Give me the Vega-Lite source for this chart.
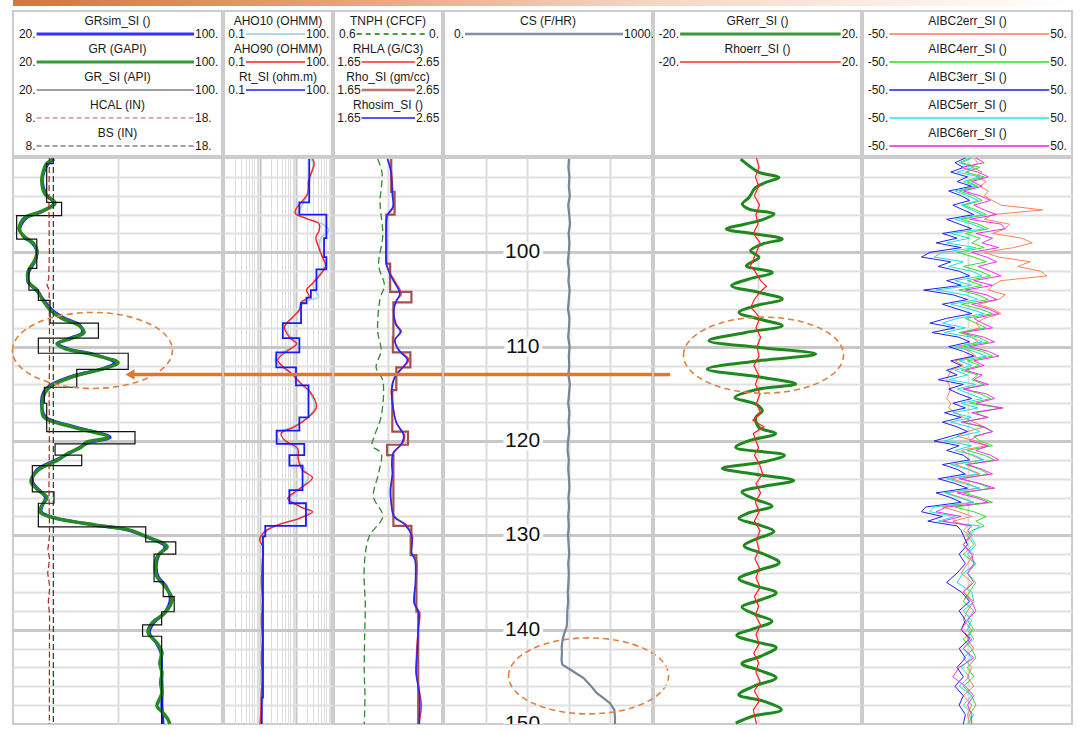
{
  "$schema": "https://vega.github.io/schema/vega-lite/v6.json",
  "padding": {"left": 8, "top": 0, "right": 0, "bottom": 0},
  "background": "white",
  "config": {
    "font": "Liberation Sans",
    "view": {"stroke": "#cccccc", "strokeWidth": 2},
    "axis": {"domain": false, "ticks": false, "labels": false, "grid": true, "gridColor": "#dcdcdc", "gridWidth": 1.5, "minExtent": 0},
    "text": {"font": "Liberation Sans"}
  },
  "datasets": {
    "hdr": [
      {"track": "t1", "row": 0, "name": "GRsim_SI ()", "lo": "20.", "hi": "100."},
      {"track": "t1", "row": 1, "name": "GR (GAPI)", "lo": "20.", "hi": "100."},
      {"track": "t1", "row": 2, "name": "GR_SI (API)", "lo": "20.", "hi": "100."},
      {"track": "t1", "row": 3, "name": "HCAL (IN)", "lo": "8.", "hi": "18."},
      {"track": "t1", "row": 4, "name": "BS (IN)", "lo": "8.", "hi": "18."},
      {"track": "t2", "row": 0, "name": "AHO10 (OHMM)", "lo": "0.1", "hi": "100."},
      {"track": "t2", "row": 1, "name": "AHO90 (OHMM)", "lo": "0.1", "hi": "100."},
      {"track": "t2", "row": 2, "name": "Rt_SI (ohm.m)", "lo": "0.1", "hi": "100."},
      {"track": "t3", "row": 0, "name": "TNPH (CFCF)", "lo": "0.6", "hi": "0."},
      {"track": "t3", "row": 1, "name": "RHLA (G/C3)", "lo": "1.65", "hi": "2.65"},
      {"track": "t3", "row": 2, "name": "Rho_SI (gm/cc)", "lo": "1.65", "hi": "2.65"},
      {"track": "t3", "row": 3, "name": "Rhosim_SI ()", "lo": "1.65", "hi": "2.65"},
      {"track": "t4", "row": 0, "name": "CS (F/HR)", "lo": "0.", "hi": "1000."},
      {"track": "t5", "row": 0, "name": "GRerr_SI ()", "lo": "-20.", "hi": "20."},
      {"track": "t5", "row": 1, "name": "Rhoerr_SI ()", "lo": "-20.", "hi": "20."},
      {"track": "t6", "row": 0, "name": "AIBC2err_SI ()", "lo": "-50.", "hi": "50."},
      {"track": "t6", "row": 1, "name": "AIBC4err_SI ()", "lo": "-50.", "hi": "50."},
      {"track": "t6", "row": 2, "name": "AIBC3err_SI ()", "lo": "-50.", "hi": "50."},
      {"track": "t6", "row": 3, "name": "AIBC5err_SI ()", "lo": "-50.", "hi": "50."},
      {"track": "t6", "row": 4, "name": "AIBC6err_SI ()", "lo": "-50.", "hi": "50."}
    ],
    "gr": [
      {"d": 90.1, "gr": 35.3, "grsim": 35.8}, {"d": 90.6, "gr": 32.9, "grsim": 33.5}, {"d": 91.5, "gr": 31.5, "grsim": 31.8},
      {"d": 92.4, "gr": 31.0, "grsim": 31.2}, {"d": 93.8, "gr": 32.2, "grsim": 32.6}, {"d": 94.8, "gr": 36.1, "grsim": 35.6},
      {"d": 95.8, "gr": 29.6, "grsim": 30.2}, {"d": 96.3, "gr": 24.6, "grsim": 25.4}, {"d": 97.5, "gr": 22.3, "grsim": 22.6},
      {"d": 98.4, "gr": 24.6, "grsim": 24.2}, {"d": 99.0, "gr": 27.7, "grsim": 27.3}, {"d": 99.8, "gr": 29.2, "grsim": 29.0},
      {"d": 100.8, "gr": 28.4, "grsim": 28.7}, {"d": 102.1, "gr": 25.7, "grsim": 26.0}, {"d": 103.2, "gr": 26.1, "grsim": 25.8},
      {"d": 104.0, "gr": 29.2, "grsim": 28.8}, {"d": 105.1, "gr": 31.5, "grsim": 31.9}, {"d": 106.1, "gr": 34.2, "grsim": 34.9},
      {"d": 107.0, "gr": 38.8, "grsim": 39.8}, {"d": 107.7, "gr": 44.9, "grsim": 45.5}, {"d": 108.5, "gr": 47.2, "grsim": 46.5},
      {"d": 109.1, "gr": 42.6, "grsim": 41.8}, {"d": 109.7, "gr": 36.8, "grsim": 37.2}, {"d": 110.2, "gr": 39.9, "grsim": 40.8},
      {"d": 110.9, "gr": 51.4, "grsim": 52.0}, {"d": 111.7, "gr": 60.2, "grsim": 58.8}, {"d": 112.3, "gr": 55.2, "grsim": 54.6},
      {"d": 113.0, "gr": 44.9, "grsim": 44.0}, {"d": 113.6, "gr": 38.8, "grsim": 37.9}, {"d": 114.1, "gr": 34.9, "grsim": 34.1},
      {"d": 114.9, "gr": 32.2, "grsim": 31.6}, {"d": 116.4, "gr": 31.1, "grsim": 31.0}, {"d": 117.5, "gr": 31.9, "grsim": 32.6},
      {"d": 118.5, "gr": 42.6, "grsim": 43.8}, {"d": 119.6, "gr": 56.4, "grsim": 57.2}, {"d": 120.2, "gr": 47.6, "grsim": 48.8},
      {"d": 120.6, "gr": 46.4, "grsim": 46.0}, {"d": 121.3, "gr": 41.1, "grsim": 41.6}, {"d": 122.0, "gr": 37.2, "grsim": 36.5},
      {"d": 123.1, "gr": 29.6, "grsim": 29.0}, {"d": 124.3, "gr": 26.9, "grsim": 27.5}, {"d": 125.2, "gr": 29.6, "grsim": 30.0},
      {"d": 126.0, "gr": 33.0, "grsim": 32.4}, {"d": 126.8, "gr": 31.1, "grsim": 31.3}, {"d": 127.5, "gr": 30.3, "grsim": 30.8},
      {"d": 128.1, "gr": 34.9, "grsim": 35.5}, {"d": 128.9, "gr": 51.4, "grsim": 51.0}, {"d": 129.4, "gr": 64.0, "grsim": 63.5},
      {"d": 130.2, "gr": 71.7, "grsim": 71.4}, {"d": 131.2, "gr": 79.0, "grsim": 78.2}, {"d": 132.1, "gr": 75.5, "grsim": 75.8},
      {"d": 133.3, "gr": 74.4, "grsim": 74.8}, {"d": 134.4, "gr": 75.1, "grsim": 75.6}, {"d": 135.4, "gr": 78.2, "grsim": 78.6},
      {"d": 136.8, "gr": 80.9, "grsim": 80.2}, {"d": 138.2, "gr": 78.2, "grsim": 78.0}, {"d": 139.3, "gr": 73.2, "grsim": 73.8},
      {"d": 140.3, "gr": 71.7, "grsim": 72.2}, {"d": 141.4, "gr": 75.1, "grsim": 74.8}, {"d": 142.4, "gr": 77.0, "grsim": 76.6},
      {"d": 143.5, "gr": 76.2, "grsim": 76.8}, {"d": 144.6, "gr": 77.0, "grsim": 76.9}, {"d": 145.6, "gr": 76.5, "grsim": 77.0},
      {"d": 146.7, "gr": 77.0, "grsim": 77.1}, {"d": 147.4, "gr": 76.0, "grsim": 77.0}, {"d": 148.1, "gr": 75.1, "grsim": 77.0},
      {"d": 148.8, "gr": 77.4, "grsim": 77.2}, {"d": 149.5, "gr": 79.3, "grsim": 77.3}, {"d": 150.0, "gr": 80.0, "grsim": 77.4}
    ],
    "grsi": [
      {"d": 90.1, "v": 35.4}, {"d": 90.6, "v": 32.9}, {"d": 94.7, "v": 38.6}, {"d": 96.1, "v": 21.4}, {"d": 98.6, "v": 29.1},
      {"d": 101.7, "v": 26.1}, {"d": 104.0, "v": 29.7}, {"d": 105.1, "v": 34.2}, {"d": 107.5, "v": 52.7}, {"d": 109.1, "v": 29.7},
      {"d": 110.7, "v": 64.1}, {"d": 112.4, "v": 44.4}, {"d": 114.3, "v": 32.0}, {"d": 116.0, "v": 32.9}, {"d": 119.0, "v": 66.7},
      {"d": 120.3, "v": 36.1}, {"d": 121.5, "v": 46.3}, {"d": 122.6, "v": 27.4}, {"d": 125.4, "v": 35.7}, {"d": 126.6, "v": 29.7},
      {"d": 129.1, "v": 70.8}, {"d": 130.7, "v": 82.3}, {"d": 132.0, "v": 74.0}, {"d": 134.9, "v": 77.5}, {"d": 136.5, "v": 81.7},
      {"d": 138.1, "v": 76.9}, {"d": 139.5, "v": 69.6}, {"d": 140.7, "v": 76.9}, {"d": 150.0, "v": 76.9}
    ],
    "cal": [
      {"d": 90, "hcal": 9.74, "bs": 9.93}, {"d": 95, "hcal": 9.72, "bs": 9.93}, {"d": 100, "hcal": 9.74, "bs": 9.93},
      {"d": 102.8, "hcal": 9.71, "bs": 9.93}, {"d": 103.4, "hcal": 9.62, "bs": 9.93}, {"d": 104, "hcal": 9.73, "bs": 9.93},
      {"d": 110, "hcal": 9.75, "bs": 9.93}, {"d": 115, "hcal": 9.73, "bs": 9.93}, {"d": 120, "hcal": 9.74, "bs": 9.93},
      {"d": 125, "hcal": 9.72, "bs": 9.93}, {"d": 130, "hcal": 9.75, "bs": 9.93}, {"d": 131.5, "hcal": 9.67, "bs": 9.93},
      {"d": 132.5, "hcal": 9.75, "bs": 9.93}, {"d": 134, "hcal": 9.66, "bs": 9.93}, {"d": 135.5, "hcal": 9.76, "bs": 9.93},
      {"d": 137, "hcal": 9.69, "bs": 9.93}, {"d": 138.5, "hcal": 9.75, "bs": 9.93}, {"d": 145, "hcal": 9.74, "bs": 9.93},
      {"d": 150, "hcal": 9.74, "bs": 9.93}
    ],
    "res": [
      {"d": 90.1, "aho90": 28.7, "aho10": 26}, {"d": 90.6, "aho90": 32.0, "aho10": 30}, {"d": 92.4, "aho90": 22.3, "aho10": 24},
      {"d": 93.8, "aho90": 20.9, "aho10": 21}, {"d": 95.4, "aho90": 10.0, "aho10": 13}, {"d": 95.9, "aho90": 9.6, "aho10": 11},
      {"d": 96.4, "aho90": 18.9, "aho10": 20}, {"d": 97.0, "aho90": 43.9, "aho10": 55}, {"d": 97.7, "aho90": 43.9, "aho10": 82},
      {"d": 98.4, "aho90": 35.6, "aho10": 50}, {"d": 99.4, "aho90": 42.0, "aho10": 45}, {"d": 100.5, "aho90": 54.1, "aho10": 55},
      {"d": 101.4, "aho90": 67.1, "aho10": 62}, {"d": 102.3, "aho90": 48.9, "aho10": 45}, {"d": 103.3, "aho90": 28.7, "aho10": 30},
      {"d": 104.0, "aho90": 19.6, "aho10": 33}, {"d": 104.7, "aho90": 23.3, "aho10": 42}, {"d": 105.3, "aho90": 13.8, "aho10": 16},
      {"d": 106.1, "aho90": 12.4, "aho10": 13}, {"d": 106.8, "aho90": 8.45, "aho10": 9}, {"d": 107.9, "aho90": 4.78, "aho10": 5},
      {"d": 109.0, "aho90": 6.56, "aho10": 7.5}, {"d": 109.7, "aho90": 10.4, "aho10": 11}, {"d": 110.4, "aho90": 5.89, "aho10": 5},
      {"d": 111.4, "aho90": 3.12, "aho10": 2.6}, {"d": 112.1, "aho90": 4.29, "aho10": 3.8}, {"d": 112.8, "aho90": 7.3, "aho10": 7},
      {"d": 113.9, "aho90": 13.8, "aho10": 13}, {"d": 114.9, "aho90": 25.9, "aho10": 24}, {"d": 116.4, "aho90": 37.0, "aho10": 33},
      {"d": 117.4, "aho90": 23.3, "aho10": 22}, {"d": 118.5, "aho90": 9.0, "aho10": 8}, {"d": 119.2, "aho90": 3.87, "aho10": 2.9},
      {"d": 119.9, "aho90": 4.78, "aho10": 3.5}, {"d": 120.8, "aho90": 11.1, "aho10": 10}, {"d": 122.0, "aho90": 11.6, "aho10": 12},
      {"d": 123.1, "aho90": 15.2, "aho10": 18}, {"d": 123.9, "aho90": 28.7, "aho10": 22}, {"d": 125.2, "aho90": 11.1, "aho10": 12},
      {"d": 126.1, "aho90": 5.89, "aho10": 7}, {"d": 127.0, "aho90": 13.8, "aho10": 14}, {"d": 127.5, "aho90": 28.7, "aho10": 24},
      {"d": 128.2, "aho90": 12.4, "aho10": 12}, {"d": 128.9, "aho90": 3.12, "aho10": 3.2}, {"d": 129.6, "aho90": 1.35, "aho10": 1.5},
      {"d": 130.5, "aho90": 0.98, "aho10": 1.15}, {"d": 131.2, "aho90": 1.21, "aho10": 1.25}, {"d": 133, "aho90": 1.15, "aho10": 1.2},
      {"d": 135, "aho90": 1.1, "aho10": 1.18}, {"d": 137, "aho90": 1.17, "aho10": 1.16}, {"d": 139, "aho90": 1.1, "aho10": 1.2},
      {"d": 141, "aho90": 1.16, "aho10": 1.22}, {"d": 143, "aho90": 1.1, "aho10": 1.2}, {"d": 145, "aho90": 1.14, "aho10": 1.18},
      {"d": 147, "aho90": 1.09, "aho10": 1.2}, {"d": 149, "aho90": 1.05, "aho10": 1.12}, {"d": 150, "aho90": 1.0, "aho10": 1.1}
    ],
    "rtsi": [
      {"d": 90.1, "v": 23.3}, {"d": 94.7, "v": 12.4}, {"d": 96.0, "v": 69.8}, {"d": 98.5, "v": 60.2}, {"d": 100.5, "v": 69.8},
      {"d": 101.8, "v": 37.0}, {"d": 104.0, "v": 25.9}, {"d": 104.8, "v": 19.6}, {"d": 105.4, "v": 13.8}, {"d": 107.5, "v": 4.29},
      {"d": 109.1, "v": 12.4}, {"d": 110.6, "v": 2.83}, {"d": 112.2, "v": 10.0}, {"d": 114.1, "v": 22.3}, {"d": 117.5, "v": 12.4},
      {"d": 118.9, "v": 2.9}, {"d": 120.3, "v": 17.0}, {"d": 121.5, "v": 6.56}, {"d": 122.6, "v": 15.2}, {"d": 125.2, "v": 6.56},
      {"d": 126.6, "v": 18.9}, {"d": 129.0, "v": 1.4}, {"d": 130.1, "v": 1.21}, {"d": 147.2, "v": 1.12}, {"d": 150.0, "v": 1.12}
    ],
    "tnph": [
      {"d": 90.1, "v": 0.357}, {"d": 91.6, "v": 0.333}, {"d": 94.7, "v": 0.344}, {"d": 98.2, "v": 0.329}, {"d": 101.4, "v": 0.352},
      {"d": 103.5, "v": 0.32}, {"d": 104.9, "v": 0.344}, {"d": 108.4, "v": 0.357}, {"d": 110.4, "v": 0.338}, {"d": 112.2, "v": 0.366},
      {"d": 113.6, "v": 0.329}, {"d": 117.4, "v": 0.338}, {"d": 119.5, "v": 0.376}, {"d": 120.5, "v": 0.389}, {"d": 121.3, "v": 0.338},
      {"d": 123.4, "v": 0.352}, {"d": 125.9, "v": 0.381}, {"d": 128.0, "v": 0.329}, {"d": 130.1, "v": 0.404}, {"d": 133.3, "v": 0.432},
      {"d": 137.5, "v": 0.426}, {"d": 141, "v": 0.43}, {"d": 144.6, "v": 0.432}, {"d": 147, "v": 0.428}, {"d": 150, "v": 0.432}
    ],
    "rho": [
      {"d": 90.1, "rhla": 2.148, "rhosim": 2.145}, {"d": 91.3, "rhla": 2.18, "rhosim": 2.175}, {"d": 93.8, "rhla": 2.195, "rhosim": 2.19},
      {"d": 95.2, "rhla": 2.201, "rhosim": 2.195}, {"d": 96.1, "rhla": 2.148, "rhosim": 2.14}, {"d": 97.0, "rhla": 2.133, "rhosim": 2.133},
      {"d": 99.0, "rhla": 2.133, "rhosim": 2.133}, {"d": 101.2, "rhla": 2.133, "rhosim": 2.135}, {"d": 102.1, "rhla": 2.164, "rhosim": 2.16},
      {"d": 103.0, "rhla": 2.211, "rhosim": 2.2}, {"d": 104.4, "rhla": 2.273, "rhosim": 2.26}, {"d": 105.1, "rhla": 2.227, "rhosim": 2.23},
      {"d": 106.0, "rhla": 2.201, "rhosim": 2.205}, {"d": 107.6, "rhla": 2.227, "rhosim": 2.22}, {"d": 108.4, "rhla": 2.273, "rhosim": 2.265},
      {"d": 109.3, "rhla": 2.211, "rhosim": 2.215}, {"d": 110.4, "rhla": 2.257, "rhosim": 2.25}, {"d": 111.4, "rhla": 2.344, "rhosim": 2.33},
      {"d": 112.3, "rhla": 2.273, "rhosim": 2.28}, {"d": 113.2, "rhla": 2.211, "rhosim": 2.215}, {"d": 114.6, "rhla": 2.18, "rhosim": 2.185},
      {"d": 116.0, "rhla": 2.195, "rhosim": 2.19}, {"d": 118.1, "rhla": 2.227, "rhosim": 2.23}, {"d": 119.4, "rhla": 2.304, "rhosim": 2.295},
      {"d": 120.2, "rhla": 2.288, "rhosim": 2.28}, {"d": 121.3, "rhla": 2.195, "rhosim": 2.2}, {"d": 122.4, "rhla": 2.189, "rhosim": 2.185},
      {"d": 123.4, "rhla": 2.195, "rhosim": 2.19}, {"d": 125.2, "rhla": 2.17, "rhosim": 2.175}, {"d": 126.6, "rhla": 2.18, "rhosim": 2.18},
      {"d": 128.0, "rhla": 2.211, "rhosim": 2.205}, {"d": 128.9, "rhla": 2.32, "rhosim": 2.31}, {"d": 130.1, "rhla": 2.376, "rhosim": 2.37},
      {"d": 131.9, "rhla": 2.367, "rhosim": 2.37}, {"d": 132.6, "rhla": 2.413, "rhosim": 2.4}, {"d": 134.7, "rhla": 2.413, "rhosim": 2.405},
      {"d": 137.2, "rhla": 2.391, "rhosim": 2.395}, {"d": 138.2, "rhla": 2.444, "rhosim": 2.435}, {"d": 140.0, "rhla": 2.429, "rhosim": 2.43},
      {"d": 142.8, "rhla": 2.413, "rhosim": 2.418}, {"d": 144.6, "rhla": 2.413, "rhosim": 2.41}, {"d": 146.7, "rhla": 2.444, "rhosim": 2.44},
      {"d": 148.1, "rhla": 2.46, "rhosim": 2.445}, {"d": 149.5, "rhla": 2.444, "rhosim": 2.44}, {"d": 150, "rhla": 2.44, "rhosim": 2.44}
    ],
    "rhosi": [
      {"d": 90.1, "v": 2.18}, {"d": 93.6, "v": 2.211}, {"d": 96.0, "v": 2.135}, {"d": 101.2, "v": 2.17}, {"d": 104.2, "v": 2.367},
      {"d": 105.3, "v": 2.2}, {"d": 109.0, "v": 2.195}, {"d": 110.6, "v": 2.357}, {"d": 112.2, "v": 2.227}, {"d": 114.6, "v": 2.19},
      {"d": 119.0, "v": 2.335}, {"d": 120.4, "v": 2.142}, {"d": 121.5, "v": 2.2}, {"d": 129.0, "v": 2.367}, {"d": 130.1, "v": 2.36},
      {"d": 132.1, "v": 2.413}, {"d": 138.1, "v": 2.43}, {"d": 150.0, "v": 2.43}
    ],
    "cs": [
      {"d": 90.1, "v": 601}, {"d": 91, "v": 598}, {"d": 92, "v": 603}, {"d": 93, "v": 600}, {"d": 94, "v": 605}, {"d": 95, "v": 597},
      {"d": 96, "v": 602}, {"d": 97, "v": 606}, {"d": 98, "v": 599}, {"d": 99, "v": 603}, {"d": 100, "v": 600}, {"d": 101, "v": 595},
      {"d": 102, "v": 602}, {"d": 103, "v": 598}, {"d": 104, "v": 604}, {"d": 105, "v": 600}, {"d": 106, "v": 596}, {"d": 107, "v": 603},
      {"d": 108, "v": 601}, {"d": 109, "v": 597}, {"d": 110, "v": 604}, {"d": 111, "v": 600}, {"d": 112, "v": 602}, {"d": 113, "v": 598},
      {"d": 114, "v": 605}, {"d": 115, "v": 601}, {"d": 116, "v": 597}, {"d": 117, "v": 603}, {"d": 118, "v": 599}, {"d": 119, "v": 602},
      {"d": 120, "v": 596}, {"d": 121, "v": 594}, {"d": 122, "v": 600}, {"d": 123, "v": 597}, {"d": 124, "v": 601}, {"d": 125, "v": 603},
      {"d": 126, "v": 598}, {"d": 127, "v": 601}, {"d": 128, "v": 597}, {"d": 129, "v": 600}, {"d": 130, "v": 596}, {"d": 131, "v": 599},
      {"d": 132, "v": 602}, {"d": 133, "v": 597}, {"d": 134, "v": 600}, {"d": 135, "v": 598}, {"d": 136, "v": 595}, {"d": 137, "v": 597},
      {"d": 138, "v": 593}, {"d": 139, "v": 592}, {"d": 139.7, "v": 590}, {"d": 140.4, "v": 578}, {"d": 141.1, "v": 570},
      {"d": 141.8, "v": 566}, {"d": 142.5, "v": 567}, {"d": 143.2, "v": 565}, {"d": 143.7, "v": 569}, {"d": 144.2, "v": 605},
      {"d": 144.7, "v": 640}, {"d": 145.1, "v": 670}, {"d": 145.8, "v": 700}, {"d": 146.7, "v": 734}, {"d": 147.3, "v": 770},
      {"d": 147.8, "v": 798}, {"d": 148.5, "v": 819}, {"d": 149.3, "v": 822}, {"d": 150, "v": 822}
    ],
    "grerr": [
      {"d": 90.11, "v": -3.25}, {"d": 90.82, "v": -1.64}, {"d": 91.53, "v": 0.29}, {"d": 92.06, "v": 4.15}, {"d": 92.59, "v": 1.58},
      {"d": 93.12, "v": -0.35}, {"d": 94.18, "v": -1.64}, {"d": 94.88, "v": -2.93}, {"d": 95.41, "v": -1.64}, {"d": 95.94, "v": 3.19},
      {"d": 96.47, "v": 1.26}, {"d": 97.0, "v": -2.28}, {"d": 97.53, "v": -6.03}, {"d": 98.06, "v": -0.35}, {"d": 98.59, "v": 4.79},
      {"d": 99.12, "v": 0.93}, {"d": 99.83, "v": -1.32}, {"d": 100.54, "v": 0.29}, {"d": 101.42, "v": -2.16}, {"d": 102.13, "v": 2.86},
      {"d": 102.83, "v": -1.64}, {"d": 103.54, "v": -5.0}, {"d": 104.25, "v": 0.29}, {"d": 104.95, "v": 4.79}, {"d": 105.66, "v": -0.35},
      {"d": 106.37, "v": -3.57}, {"d": 107.07, "v": 0.29}, {"d": 107.78, "v": 4.79}, {"d": 108.49, "v": -2.28}, {"d": 109.37, "v": -9.37},
      {"d": 110.08, "v": 0.29}, {"d": 110.78, "v": 11.25}, {"d": 111.49, "v": 0.29}, {"d": 112.37, "v": -9.7}, {"d": 113.26, "v": 0.93},
      {"d": 113.96, "v": 7.38}, {"d": 114.49, "v": 0.29}, {"d": 115.38, "v": -4.35}, {"d": 116.08, "v": -0.35}, {"d": 116.79, "v": 0.93},
      {"d": 117.5, "v": -0.35}, {"d": 118.56, "v": 0.29}, {"d": 119.2, "v": 3.51}, {"d": 119.97, "v": -1.64}, {"d": 120.68, "v": -4.2},
      {"d": 121.5, "v": 5.2}, {"d": 122.2, "v": 1.3}, {"d": 122.9, "v": -6.8}, {"d": 123.5, "v": -0.7}, {"d": 124.2, "v": 7.0},
      {"d": 124.8, "v": 1.3}, {"d": 125.4, "v": -3.0}, {"d": 126.2, "v": -0.3}, {"d": 126.9, "v": 2.8}, {"d": 127.6, "v": -1.6},
      {"d": 128.2, "v": -3.6}, {"d": 128.9, "v": 0.3}, {"d": 129.6, "v": 3.2}, {"d": 130.4, "v": -0.3}, {"d": 131.1, "v": -2.6},
      {"d": 132.0, "v": 1.3}, {"d": 132.9, "v": 4.2}, {"d": 133.7, "v": 0.3}, {"d": 134.6, "v": -3.6}, {"d": 135.3, "v": -0.7},
      {"d": 136.1, "v": 3.6}, {"d": 136.9, "v": 0.3}, {"d": 137.6, "v": -3.0}, {"d": 138.4, "v": -0.3}, {"d": 139.1, "v": 2.8},
      {"d": 139.9, "v": -0.7}, {"d": 140.6, "v": -4.0}, {"d": 141.3, "v": -0.3}, {"d": 141.9, "v": 3.6}, {"d": 142.8, "v": 0.7},
      {"d": 143.6, "v": -3.0}, {"d": 144.3, "v": 0.3}, {"d": 145.1, "v": 3.6}, {"d": 146.0, "v": -0.7}, {"d": 146.9, "v": -3.6},
      {"d": 147.6, "v": 1.3}, {"d": 148.5, "v": 4.6}, {"d": 149.2, "v": -1.1}, {"d": 149.9, "v": -4.2}
    ],
    "rhoerr": [
      {"d": 90, "v": -0.2}, {"d": 91, "v": 0.3}, {"d": 92, "v": -0.4}, {"d": 93, "v": 0.2}, {"d": 94, "v": -0.6}, {"d": 95, "v": 0.4},
      {"d": 96, "v": -0.3}, {"d": 97, "v": 0.1}, {"d": 98, "v": -0.8}, {"d": 99, "v": 0.5}, {"d": 100, "v": -0.2}, {"d": 101, "v": -1.0},
      {"d": 101.5, "v": -1.4}, {"d": 102, "v": -0.5}, {"d": 103, "v": 0.6}, {"d": 103.6, "v": 1.7}, {"d": 104.2, "v": 0.5},
      {"d": 105, "v": -0.6}, {"d": 105.8, "v": -1.3}, {"d": 106.5, "v": -0.2}, {"d": 107, "v": 0.4}, {"d": 108, "v": -0.3},
      {"d": 109, "v": 0.6}, {"d": 110, "v": -0.1}, {"d": 111, "v": 0.3}, {"d": 112, "v": -0.7}, {"d": 113, "v": 0.2}, {"d": 114, "v": -0.4},
      {"d": 115, "v": 0.5}, {"d": 116, "v": -0.2}, {"d": 117, "v": 0.6}, {"d": 117.8, "v": -0.9}, {"d": 118.5, "v": 1.2},
      {"d": 119.2, "v": -0.8}, {"d": 120, "v": -0.3}, {"d": 120.7, "v": 0.2}, {"d": 121.5, "v": -0.6}, {"d": 122.5, "v": 0.4},
      {"d": 123.5, "v": 1.0}, {"d": 124.5, "v": -0.3}, {"d": 125.5, "v": 0.6}, {"d": 126.5, "v": -0.4}, {"d": 127.5, "v": 0.3},
      {"d": 128.5, "v": -0.6}, {"d": 129.5, "v": 0.5}, {"d": 130.5, "v": -0.2}, {"d": 131.5, "v": 0.3}, {"d": 132.5, "v": -0.5},
      {"d": 133.5, "v": 0.4}, {"d": 134.5, "v": -0.3}, {"d": 135.5, "v": 0.5}, {"d": 136.5, "v": -0.6}, {"d": 137.5, "v": 0.2},
      {"d": 138.5, "v": -0.4}, {"d": 139.5, "v": 0.6}, {"d": 140.5, "v": -0.3}, {"d": 141.5, "v": 0.3}, {"d": 142.5, "v": -0.7},
      {"d": 143.5, "v": 0.2}, {"d": 144.5, "v": -0.3}, {"d": 145.5, "v": 0.5}, {"d": 146.5, "v": -0.6}, {"d": 147.5, "v": 0.4},
      {"d": 148.5, "v": -0.8}, {"d": 149.5, "v": -0.4}, {"d": 150, "v": -0.2}
    ],
    "aibc": [
      {"d": 90.0, "a2": 3, "a4": 2, "a3": -1, "a5": 1, "a6": 4}, {"d": 90.5, "a2": 5, "a4": -3, "a3": -6, "a5": -4, "a6": 8},
      {"d": 91.0, "a2": 2, "a4": 6, "a3": -2, "a5": 3, "a6": -3}, {"d": 91.5, "a2": 7, "a4": -1, "a3": -8, "a5": -5, "a6": 5},
      {"d": 92.0, "a2": 4, "a4": 8, "a3": 0, "a5": 6, "a6": 10}, {"d": 92.5, "a2": 9, "a4": 0, "a3": -5, "a5": -2, "a6": 2},
      {"d": 93.0, "a2": 6, "a4": 5, "a3": 2, "a5": 4, "a6": 7}, {"d": 93.5, "a2": 10, "a4": -4, "a3": -9, "a5": -6, "a6": -2},
      {"d": 94.0, "a2": 8, "a4": 3, "a3": -3, "a5": 0, "a6": 6}, {"d": 94.5, "a2": 12, "a4": 7, "a3": 1, "a5": 5, "a6": 11},
      {"d": 95.0, "a2": 16, "a4": -2, "a3": -7, "a5": -3, "a6": 3}, {"d": 95.5, "a2": 36, "a4": 4, "a3": -2, "a5": 2, "a6": 8},
      {"d": 96.0, "a2": 12, "a4": 9, "a3": 3, "a5": 7, "a6": 14}, {"d": 96.5, "a2": 8, "a4": -3, "a3": -10, "a5": -6, "a6": 1},
      {"d": 97.0, "a2": 20, "a4": 5, "a3": -4, "a5": 2, "a6": 16}, {"d": 97.5, "a2": 18, "a4": 10, "a3": 2, "a5": 8, "a6": 18},
      {"d": 98.0, "a2": 12, "a4": -1, "a3": -12, "a5": -8, "a6": 4}, {"d": 98.5, "a2": 26, "a4": 6, "a3": -5, "a5": 1, "a6": 12},
      {"d": 99.0, "a2": 31, "a4": 2, "a3": -15, "a5": -10, "a6": 7}, {"d": 99.5, "a2": 22, "a4": 8, "a3": -3, "a5": 4, "a6": 15},
      {"d": 100.0, "a2": 8, "a4": -5, "a3": -18, "a5": -12, "a6": 2}, {"d": 100.5, "a2": 15, "a4": 3, "a3": -22, "a5": -16, "a6": 9},
      {"d": 101.0, "a2": 30, "a4": 9, "a3": -8, "a5": -2, "a6": 14}, {"d": 101.5, "a2": 24, "a4": -2, "a3": -14, "a5": -9, "a6": 5},
      {"d": 102.0, "a2": 35, "a4": 6, "a3": -4, "a5": 2, "a6": 11}, {"d": 102.5, "a2": 38, "a4": 11, "a3": 1, "a5": 7, "a6": 16},
      {"d": 103.0, "a2": 16, "a4": 0, "a3": -10, "a5": -6, "a6": 3}, {"d": 103.5, "a2": 12, "a4": 7, "a3": -3, "a5": 2, "a6": 12},
      {"d": 104.0, "a2": 10, "a4": -4, "a3": -21, "a5": -15, "a6": -1}, {"d": 104.5, "a2": 18, "a4": 5, "a3": -7, "a5": -1, "a6": 9},
      {"d": 105.0, "a2": 15, "a4": 10, "a3": 0, "a5": 5, "a6": 14}, {"d": 105.5, "a2": 5, "a4": -3, "a3": -12, "a5": -8, "a6": 2},
      {"d": 106.0, "a2": 12, "a4": 6, "a3": -5, "a5": 1, "a6": 10}, {"d": 106.5, "a2": 16, "a4": 12, "a3": 2, "a5": 8, "a6": 15},
      {"d": 107.0, "a2": 8, "a4": -1, "a3": -10, "a5": -5, "a6": 3}, {"d": 107.5, "a2": 4, "a4": 4, "a3": -18, "a5": -12, "a6": 7},
      {"d": 108.0, "a2": 6, "a4": 9, "a3": -6, "a5": -1, "a6": 12}, {"d": 108.5, "a2": -3, "a4": -4, "a3": -17, "a5": -11, "a6": -2},
      {"d": 109.0, "a2": 2, "a4": 5, "a3": -4, "a5": 2, "a6": 8}, {"d": 109.5, "a2": 5, "a4": 10, "a3": 1, "a5": 7, "a6": 13},
      {"d": 110.0, "a2": -4, "a4": -2, "a3": -9, "a5": -6, "a6": 1}, {"d": 110.5, "a2": 1, "a4": 7, "a3": -2, "a5": 3, "a6": 10},
      {"d": 111.0, "a2": 4, "a4": 12, "a3": 3, "a5": 9, "a6": 15}, {"d": 111.5, "a2": -6, "a4": 0, "a3": -8, "a5": -4, "a6": 3},
      {"d": 112.0, "a2": -2, "a4": 6, "a3": -3, "a5": 2, "a6": 8}, {"d": 112.5, "a2": -8, "a4": -3, "a3": -10, "a5": -6, "a6": -1},
      {"d": 113.0, "a2": -9, "a4": 5, "a3": -5, "a5": 0, "a6": 7}, {"d": 113.5, "a2": -10, "a4": 2, "a3": -14, "a5": -9, "a6": 3},
      {"d": 114.0, "a2": -9, "a4": 8, "a3": -2, "a5": 4, "a6": 10}, {"d": 114.5, "a2": -8, "a4": -2, "a3": -9, "a5": -5, "a6": -2},
      {"d": 115.0, "a2": -9, "a4": 6, "a3": -4, "a5": 1, "a6": 9}, {"d": 115.5, "a2": -10, "a4": 11, "a3": 2, "a5": 7, "a6": 13},
      {"d": 116.0, "a2": -8, "a4": 1, "a3": -7, "a5": -3, "a6": 4}, {"d": 116.5, "a2": -9, "a4": 16, "a3": -1, "a5": 5, "a6": 17},
      {"d": 117.0, "a2": -6, "a4": 4, "a3": -11, "a5": -7, "a6": 2}, {"d": 117.5, "a2": -2, "a4": 9, "a3": -3, "a5": 2, "a6": 10},
      {"d": 118.0, "a2": 3, "a4": -2, "a3": -12, "a5": -8, "a6": -3}, {"d": 118.5, "a2": 8, "a4": 7, "a3": -5, "a5": 1, "a6": 8},
      {"d": 119.0, "a2": 0, "a4": 12, "a3": 0, "a5": 6, "a6": 12}, {"d": 119.5, "a2": -5, "a4": 3, "a3": -8, "a5": -4, "a6": 4},
      {"d": 120.0, "a2": 4, "a4": 6, "a3": -16, "a5": -11, "a6": 1}, {"d": 120.5, "a2": 9, "a4": 12, "a3": -4, "a5": 2, "a6": 10},
      {"d": 121.0, "a2": -3, "a4": 0, "a3": -10, "a5": -6, "a6": 4}, {"d": 121.5, "a2": 2, "a4": 8, "a3": -2, "a5": 3, "a6": 11},
      {"d": 122.0, "a2": 7, "a4": 13, "a3": 1, "a5": 8, "a6": 15}, {"d": 122.5, "a2": -6, "a4": -1, "a3": -12, "a5": -8, "a6": 0},
      {"d": 123.0, "a2": 1, "a4": 6, "a3": -5, "a5": 0, "a6": 7}, {"d": 123.5, "a2": 6, "a4": 10, "a3": -1, "a5": 5, "a6": 12},
      {"d": 124.0, "a2": -8, "a4": -3, "a3": -14, "a5": -10, "a6": -4}, {"d": 124.5, "a2": 0, "a4": 5, "a3": -6, "a5": -2, "a6": 6},
      {"d": 125.0, "a2": 5, "a4": 11, "a3": 0, "a5": 6, "a6": 13}, {"d": 125.5, "a2": -10, "a4": -2, "a3": -15, "a5": -11, "a6": -5},
      {"d": 126.0, "a2": -3, "a4": 6, "a3": -8, "a5": -4, "a6": 4}, {"d": 126.5, "a2": 3, "a4": 12, "a3": -3, "a5": 3, "a6": 10},
      {"d": 127.0, "a2": -12, "a4": -6, "a3": -20, "a5": -16, "a6": -10}, {"d": 127.5, "a2": -4, "a4": 3, "a3": -22, "a5": -18, "a6": -15},
      {"d": 128.0, "a2": 2, "a4": 9, "a3": -12, "a5": -6, "a6": -3}, {"d": 128.5, "a2": -7, "a4": 4, "a3": -19, "a5": -14, "a6": -12},
      {"d": 129.0, "a2": 0, "a4": 8, "a3": -5, "a5": 6, "a6": 2}, {"d": 129.5, "a2": -2, "a4": 2, "a3": -3, "a5": 3, "a6": 0},
      {"d": 130.0, "a2": 1, "a4": 0, "a3": -2, "a5": 1, "a6": 2}, {"d": 131, "a2": -2, "a4": 3, "a3": 0, "a5": 4, "a6": -2},
      {"d": 132, "a2": 3, "a4": -2, "a3": -4, "a5": 0, "a6": 2}, {"d": 133, "a2": 0, "a4": 4, "a3": -1, "a5": 4, "a6": 3},
      {"d": 134, "a2": -3, "a4": 0, "a3": -5, "a5": -2, "a6": 0}, {"d": 135, "a2": 2, "a4": 4, "a3": -10, "a5": -5, "a6": 3},
      {"d": 136, "a2": -2, "a4": 1, "a3": -3, "a5": 2, "a6": -2}, {"d": 137, "a2": 3, "a4": -2, "a3": 1, "a5": 3, "a6": 2},
      {"d": 138, "a2": 0, "a4": 3, "a3": -4, "a5": -2, "a6": 4}, {"d": 139, "a2": -2, "a4": 0, "a3": -1, "a5": 2, "a6": 0},
      {"d": 140, "a2": 2, "a4": 3, "a3": -3, "a5": 0, "a6": -3}, {"d": 141, "a2": 0, "a4": -2, "a3": 1, "a5": 3, "a6": 2},
      {"d": 142, "a2": 3, "a4": 2, "a3": -4, "a5": -2, "a6": -2}, {"d": 143, "a2": -2, "a4": 4, "a3": -1, "a5": 2, "a6": 3},
      {"d": 144, "a2": 2, "a4": 0, "a3": -5, "a5": -3, "a6": -4}, {"d": 145, "a2": 0, "a4": 3, "a3": -2, "a5": 1, "a6": -7},
      {"d": 146, "a2": 3, "a4": -2, "a3": -6, "a5": -4, "a6": -1}, {"d": 147, "a2": -2, "a4": 2, "a3": -2, "a5": 2, "a6": 3},
      {"d": 148, "a2": 2, "a4": 4, "a3": -4, "a5": -2, "a6": 0}, {"d": 149, "a2": 0, "a4": 1, "a3": -1, "a5": 3, "a6": 2},
      {"d": 150, "a2": 1, "a4": 2, "a3": -2, "a5": 0, "a6": 2}
    ],
    "lab": [{"d": 100}, {"d": 110}, {"d": 120}, {"d": 130}, {"d": 140}, {"d": 150}],
    "notes": [
      {"kind": "ring", "track": "t1", "x": 50.4, "d": 110.4},
      {"kind": "ring", "track": "t4", "x": 695, "d": 144.9},
      {"kind": "ring", "track": "t5", "x": 1.16, "d": 110.9},
      {"kind": "arrow", "track": "t1", "x": 64.8, "x2": 100, "d": 112.96},
      {"kind": "arrow", "track": "t2", "x": 0.1, "x2": 100, "d": 112.96},
      {"kind": "arrow", "track": "t3", "x": 1.65, "x2": 2.65, "d": 112.96},
      {"kind": "arrow", "track": "t4", "x": 0, "x2": 1000, "d": 112.96},
      {"kind": "arrow", "track": "t5", "x": -20, "x2": -16.9, "d": 112.96},
      {"kind": "head", "track": "t1", "x": 64.8, "d": 112.96}
    ]
  },
  "spacing": 4,
  "vconcat": [
    {
      "width": 1060,
      "height": 6,
      "view": {"stroke": null},
      "data": {"values": [{"a": 0, "b": 1}]},
      "mark": {"type": "rect", "fill": {"gradient": "linear", "x1": 0, "x2": 1, "y1": 0, "y2": 0, "stops": [{"offset": 0, "color": "#d8743a"}, {"offset": 0.3, "color": "#e6a07a"}, {"offset": 0.6, "color": "#f4d6c4"}, {"offset": 0.85, "color": "#fbf0e9"}, {"offset": 1, "color": "#ffffff"}]}},
      "encoding": {
        "x": {"field": "a", "type": "quantitative", "scale": {"domain": [0, 1], "nice": false}, "axis": null},
        "x2": {"field": "b"}
      }
    },
    {
      "columns": 6,
      "spacing": {"row": 2, "column": 2},
      "bounds": "flush",
      "concat": [
        {
          "width": 209, "height": 145,
          "data": {"name": "hdr"},
          "transform": [{"filter": "datum.track === 't1'"}],
          "encoding": {"y": {"field": "row", "type": "quantitative", "scale": {"domain": [-0.357, 4.821], "reverse": true, "nice": false, "zero": false}, "axis": null}},
          "layer": [
            {"mark": {"type": "text", "fontSize": 12, "color": "#1a1a1a"}, "encoding": {"x": {"datum": 0.5, "type": "quantitative", "scale": {"domain": [0, 1], "nice": false}, "axis": null}, "text": {"field": "name", "type": "nominal"}}},
            {"mark": {"type": "text", "fontSize": 12, "color": "#1a1a1a", "align": "right", "dx": -1, "dy": 13}, "encoding": {"x": {"datum": 0.113, "type": "quantitative", "axis": null}, "text": {"field": "lo", "type": "nominal"}}},
            {"mark": {"type": "text", "fontSize": 12, "color": "#1a1a1a", "align": "left", "dx": 1, "dy": 13}, "encoding": {"x": {"datum": 0.866, "type": "quantitative", "axis": null}, "text": {"field": "hi", "type": "nominal"}}},
            {"transform": [{"filter": "datum.row === 0"}], "mark": {"type": "rule", "color": "#3030ff", "strokeWidth": 3, "yOffset": 13}, "encoding": {"x": {"datum": 0.113, "type": "quantitative", "axis": null}, "x2": {"datum": 0.866}}},
            {"transform": [{"filter": "datum.row === 1"}], "mark": {"type": "rule", "color": "#359a35", "strokeWidth": 3, "yOffset": 13}, "encoding": {"x": {"datum": 0.113, "type": "quantitative", "axis": null}, "x2": {"datum": 0.866}}},
            {"transform": [{"filter": "datum.row === 2"}], "mark": {"type": "rule", "color": "#444444", "strokeWidth": 1.2, "yOffset": 13}, "encoding": {"x": {"datum": 0.113, "type": "quantitative", "axis": null}, "x2": {"datum": 0.866}}},
            {"transform": [{"filter": "datum.row === 3"}], "mark": {"type": "rule", "color": "#c45a5a", "strokeWidth": 1.2, "strokeDash": [5, 3], "yOffset": 13}, "encoding": {"x": {"datum": 0.113, "type": "quantitative", "axis": null}, "x2": {"datum": 0.866}}},
            {"transform": [{"filter": "datum.row === 4"}], "mark": {"type": "rule", "color": "#444444", "strokeWidth": 1.2, "strokeDash": [5, 3], "yOffset": 13}, "encoding": {"x": {"datum": 0.113, "type": "quantitative", "axis": null}, "x2": {"datum": 0.866}}}
          ]
        },
        {
          "width": 108, "height": 145,
          "data": {"name": "hdr"},
          "transform": [{"filter": "datum.track === 't2'"}],
          "encoding": {"y": {"field": "row", "type": "quantitative", "scale": {"domain": [-0.357, 4.821], "reverse": true, "nice": false, "zero": false}, "axis": null}},
          "layer": [
            {"mark": {"type": "text", "fontSize": 12, "color": "#1a1a1a"}, "encoding": {"x": {"datum": 0.5, "type": "quantitative", "scale": {"domain": [0, 1], "nice": false}, "axis": null}, "text": {"field": "name", "type": "nominal"}}},
            {"mark": {"type": "text", "fontSize": 12, "color": "#1a1a1a", "align": "right", "dx": -1, "dy": 13}, "encoding": {"x": {"datum": 0.204, "type": "quantitative", "axis": null}, "text": {"field": "lo", "type": "nominal"}}},
            {"mark": {"type": "text", "fontSize": 12, "color": "#1a1a1a", "align": "left", "dx": 1, "dy": 13}, "encoding": {"x": {"datum": 0.75, "type": "quantitative", "axis": null}, "text": {"field": "hi", "type": "nominal"}}},
            {"transform": [{"filter": "datum.row === 0"}], "mark": {"type": "rule", "color": "#a9daf2", "strokeWidth": 2.2, "yOffset": 13}, "encoding": {"x": {"datum": 0.204, "type": "quantitative", "axis": null}, "x2": {"datum": 0.75}}},
            {"transform": [{"filter": "datum.row === 1"}], "mark": {"type": "rule", "color": "#ff5555", "strokeWidth": 2.2, "yOffset": 13}, "encoding": {"x": {"datum": 0.204, "type": "quantitative", "axis": null}, "x2": {"datum": 0.75}}},
            {"transform": [{"filter": "datum.row === 2"}], "mark": {"type": "rule", "color": "#5555ff", "strokeWidth": 2.2, "yOffset": 13}, "encoding": {"x": {"datum": 0.204, "type": "quantitative", "axis": null}, "x2": {"datum": 0.75}}}
          ]
        },
        {
          "width": 108, "height": 145,
          "data": {"name": "hdr"},
          "transform": [{"filter": "datum.track === 't3'"}],
          "encoding": {"y": {"field": "row", "type": "quantitative", "scale": {"domain": [-0.357, 4.821], "reverse": true, "nice": false, "zero": false}, "axis": null}},
          "layer": [
            {"mark": {"type": "text", "fontSize": 12, "color": "#1a1a1a"}, "encoding": {"x": {"datum": 0.5, "type": "quantitative", "scale": {"domain": [0, 1], "nice": false}, "axis": null}, "text": {"field": "name", "type": "nominal"}}},
            {"transform": [{"filter": "datum.row === 0"}], "mark": {"type": "text", "fontSize": 12, "color": "#1a1a1a", "align": "right", "dx": -1, "dy": 13}, "encoding": {"x": {"datum": 0.21, "type": "quantitative", "axis": null}, "text": {"field": "lo", "type": "nominal"}}},
            {"transform": [{"filter": "datum.row === 0"}], "mark": {"type": "text", "fontSize": 12, "color": "#1a1a1a", "align": "left", "dx": 1, "dy": 13}, "encoding": {"x": {"datum": 0.87, "type": "quantitative", "axis": null}, "text": {"field": "hi", "type": "nominal"}}},
            {"transform": [{"filter": "datum.row > 0"}], "mark": {"type": "text", "fontSize": 12, "color": "#1a1a1a", "align": "right", "dx": -1, "dy": 13}, "encoding": {"x": {"datum": 0.256, "type": "quantitative", "axis": null}, "text": {"field": "lo", "type": "nominal"}}},
            {"transform": [{"filter": "datum.row > 0"}], "mark": {"type": "text", "fontSize": 12, "color": "#1a1a1a", "align": "left", "dx": 1, "dy": 13}, "encoding": {"x": {"datum": 0.75, "type": "quantitative", "axis": null}, "text": {"field": "hi", "type": "nominal"}}},
            {"transform": [{"filter": "datum.row === 0"}], "mark": {"type": "rule", "color": "#3f9f3f", "strokeWidth": 2, "strokeDash": [5, 4], "yOffset": 13}, "encoding": {"x": {"datum": 0.21, "type": "quantitative", "axis": null}, "x2": {"datum": 0.87}}},
            {"transform": [{"filter": "datum.row === 1"}], "mark": {"type": "rule", "color": "#ff5c5c", "strokeWidth": 2.2, "yOffset": 13}, "encoding": {"x": {"datum": 0.256, "type": "quantitative", "axis": null}, "x2": {"datum": 0.75}}},
            {"transform": [{"filter": "datum.row === 2"}], "mark": {"type": "rule", "color": "#c07272", "strokeWidth": 2.6, "yOffset": 13}, "encoding": {"x": {"datum": 0.256, "type": "quantitative", "axis": null}, "x2": {"datum": 0.75}}},
            {"transform": [{"filter": "datum.row === 3"}], "mark": {"type": "rule", "color": "#5555ff", "strokeWidth": 2.2, "yOffset": 13}, "encoding": {"x": {"datum": 0.256, "type": "quantitative", "axis": null}, "x2": {"datum": 0.75}}}
          ]
        },
        {
          "width": 208, "height": 145,
          "data": {"name": "hdr"},
          "transform": [{"filter": "datum.track === 't4'"}],
          "encoding": {"y": {"field": "row", "type": "quantitative", "scale": {"domain": [-0.357, 4.821], "reverse": true, "nice": false, "zero": false}, "axis": null}},
          "layer": [
            {"mark": {"type": "text", "fontSize": 12, "color": "#1a1a1a"}, "encoding": {"x": {"datum": 0.5, "type": "quantitative", "scale": {"domain": [0, 1], "nice": false}, "axis": null}, "text": {"field": "name", "type": "nominal"}}},
            {"mark": {"type": "text", "fontSize": 12, "color": "#1a1a1a", "align": "right", "dx": -1, "dy": 13}, "encoding": {"x": {"datum": 0.101, "type": "quantitative", "axis": null}, "text": {"field": "lo", "type": "nominal"}}},
            {"mark": {"type": "text", "fontSize": 12, "color": "#1a1a1a", "align": "left", "dx": 1, "dy": 13}, "encoding": {"x": {"datum": 0.861, "type": "quantitative", "axis": null}, "text": {"field": "hi", "type": "nominal"}}},
            {"mark": {"type": "rule", "color": "#8391a1", "strokeWidth": 2.6, "yOffset": 13}, "encoding": {"x": {"datum": 0.101, "type": "quantitative", "axis": null}, "x2": {"datum": 0.861}}}
          ]
        },
        {
          "width": 207, "height": 145,
          "data": {"name": "hdr"},
          "transform": [{"filter": "datum.track === 't5'"}],
          "encoding": {"y": {"field": "row", "type": "quantitative", "scale": {"domain": [-0.357, 4.821], "reverse": true, "nice": false, "zero": false}, "axis": null}},
          "layer": [
            {"mark": {"type": "text", "fontSize": 12, "color": "#1a1a1a"}, "encoding": {"x": {"datum": 0.5, "type": "quantitative", "scale": {"domain": [0, 1], "nice": false}, "axis": null}, "text": {"field": "name", "type": "nominal"}}},
            {"mark": {"type": "text", "fontSize": 12, "color": "#1a1a1a", "align": "right", "dx": -1, "dy": 13}, "encoding": {"x": {"datum": 0.126, "type": "quantitative", "axis": null}, "text": {"field": "lo", "type": "nominal"}}},
            {"mark": {"type": "text", "fontSize": 12, "color": "#1a1a1a", "align": "left", "dx": 1, "dy": 13}, "encoding": {"x": {"datum": 0.902, "type": "quantitative", "axis": null}, "text": {"field": "hi", "type": "nominal"}}},
            {"transform": [{"filter": "datum.row === 0"}], "mark": {"type": "rule", "color": "#3a9a3a", "strokeWidth": 3, "yOffset": 13}, "encoding": {"x": {"datum": 0.126, "type": "quantitative", "axis": null}, "x2": {"datum": 0.902}}},
            {"transform": [{"filter": "datum.row === 1"}], "mark": {"type": "rule", "color": "#ff6060", "strokeWidth": 2.2, "yOffset": 13}, "encoding": {"x": {"datum": 0.126, "type": "quantitative", "axis": null}, "x2": {"datum": 0.902}}}
          ]
        },
        {
          "width": 209, "height": 145,
          "data": {"name": "hdr"},
          "transform": [{"filter": "datum.track === 't6'"}],
          "encoding": {"y": {"field": "row", "type": "quantitative", "scale": {"domain": [-0.357, 4.821], "reverse": true, "nice": false, "zero": false}, "axis": null}},
          "layer": [
            {"mark": {"type": "text", "fontSize": 12, "color": "#1a1a1a"}, "encoding": {"x": {"datum": 0.5, "type": "quantitative", "scale": {"domain": [0, 1], "nice": false}, "axis": null}, "text": {"field": "name", "type": "nominal"}}},
            {"mark": {"type": "text", "fontSize": 12, "color": "#1a1a1a", "align": "right", "dx": -1, "dy": 13}, "encoding": {"x": {"datum": 0.126, "type": "quantitative", "axis": null}, "text": {"field": "lo", "type": "nominal"}}},
            {"mark": {"type": "text", "fontSize": 12, "color": "#1a1a1a", "align": "left", "dx": 1, "dy": 13}, "encoding": {"x": {"datum": 0.891, "type": "quantitative", "axis": null}, "text": {"field": "hi", "type": "nominal"}}},
            {"transform": [{"filter": "datum.row === 0"}], "mark": {"type": "rule", "color": "#ff9a80", "strokeWidth": 2.2, "yOffset": 13}, "encoding": {"x": {"datum": 0.126, "type": "quantitative", "axis": null}, "x2": {"datum": 0.891}}},
            {"transform": [{"filter": "datum.row === 1"}], "mark": {"type": "rule", "color": "#55ee55", "strokeWidth": 2.2, "yOffset": 13}, "encoding": {"x": {"datum": 0.126, "type": "quantitative", "axis": null}, "x2": {"datum": 0.891}}},
            {"transform": [{"filter": "datum.row === 2"}], "mark": {"type": "rule", "color": "#5555ee", "strokeWidth": 2.2, "yOffset": 13}, "encoding": {"x": {"datum": 0.126, "type": "quantitative", "axis": null}, "x2": {"datum": 0.891}}},
            {"transform": [{"filter": "datum.row === 3"}], "mark": {"type": "rule", "color": "#55eeee", "strokeWidth": 2.2, "yOffset": 13}, "encoding": {"x": {"datum": 0.126, "type": "quantitative", "axis": null}, "x2": {"datum": 0.891}}},
            {"transform": [{"filter": "datum.row === 4"}], "mark": {"type": "rule", "color": "#ee55ee", "strokeWidth": 2.2, "yOffset": 13}, "encoding": {"x": {"datum": 0.126, "type": "quantitative", "axis": null}, "x2": {"datum": 0.891}}}
          ]
        },
        {
          "width": 209, "height": 566,
          "encoding": {"y": {"field": "d", "type": "quantitative", "scale": {"domain": [90, 150], "reverse": true, "nice": false, "zero": false}, "axis": {"title": null, "values": [92,94,96,98,100,102,104,106,108,110,112,114,116,118,120,122,124,126,128,130,132,134,136,138,140,142,144,146,148], "gridColor": {"condition": {"test": "datum.value % 10 === 0", "value": "#c8c8c8"}, "value": "#e0e0e0"}, "gridWidth": {"condition": {"test": "datum.value % 10 === 0", "value": 3}, "value": 2}}}},
          "resolve": {"scale": {"x": "independent"}},
          "layer": [
            {"data": {"name": "gr"}, "mark": {"type": "line", "color": "#2222ff", "strokeWidth": 3, "interpolate": "catmull-rom"}, "encoding": {"x": {"field": "grsim", "type": "quantitative", "scale": {"domain": [20, 100], "nice": false, "zero": false}, "axis": {"title": null, "values": [60], "gridColor": "#dcdcdc", "gridWidth": 2}}, "order": {"field": "d", "type": "quantitative"}}},
            {"data": {"name": "gr"}, "mark": {"type": "line", "color": "#258a25", "strokeWidth": 3.5, "interpolate": "catmull-rom"}, "encoding": {"x": {"field": "gr", "type": "quantitative", "scale": {"domain": [20, 100], "nice": false, "zero": false}, "axis": null}, "order": {"field": "d", "type": "quantitative"}}},
            {"data": {"name": "grsi"}, "mark": {"type": "line", "color": "#111111", "strokeWidth": 1.2, "interpolate": "step-before"}, "encoding": {"x": {"field": "v", "type": "quantitative", "scale": {"domain": [20, 100], "nice": false, "zero": false}, "axis": null}, "order": {"field": "d", "type": "quantitative"}}},
            {"data": {"name": "cal"}, "mark": {"type": "line", "color": "#b22222", "strokeWidth": 1.2, "strokeDash": [6, 3]}, "encoding": {"x": {"field": "hcal", "type": "quantitative", "scale": {"domain": [8, 18], "nice": false, "zero": false}, "axis": null}, "order": {"field": "d", "type": "quantitative"}}},
            {"data": {"name": "cal"}, "mark": {"type": "line", "color": "#333333", "strokeWidth": 1.2, "strokeDash": [6, 3]}, "encoding": {"x": {"field": "bs", "type": "quantitative", "scale": {"domain": [8, 18], "nice": false, "zero": false}, "axis": null}, "order": {"field": "d", "type": "quantitative"}}},
            {"data": {"name": "notes"}, "transform": [{"filter": "datum.kind === 'ring' && datum.track === 't1'"}], "mark": {"type": "point", "shape": "M-1,0C-1,-0.262,-0.552,-0.475,0,-0.475C0.552,-0.475,1,-0.262,1,0C1,0.262,0.552,0.475,0,0.475C-0.552,0.475,-1,0.262,-1,0Z", "size": 25600, "filled": false, "color": "#e07f3e", "strokeWidth": 1.6, "strokeDash": [6, 4], "opacity": 1}, "encoding": {"x": {"field": "x", "type": "quantitative", "scale": {"domain": [20, 100], "nice": false, "zero": false}, "axis": null}}},
            {"data": {"name": "notes"}, "transform": [{"filter": "datum.kind === 'arrow' && datum.track === 't1'"}], "mark": {"type": "rule", "color": "#dd7733", "strokeWidth": 3.5}, "encoding": {"x": {"field": "x", "type": "quantitative", "scale": {"domain": [20, 100], "nice": false, "zero": false}, "axis": null}, "x2": {"field": "x2"}}},
            {"data": {"name": "notes"}, "transform": [{"filter": "datum.kind === 'head'"}], "mark": {"type": "point", "shape": "triangle-left", "size": 110, "filled": true, "color": "#dd7733", "opacity": 1}, "encoding": {"x": {"field": "x", "type": "quantitative", "scale": {"domain": [20, 100], "nice": false, "zero": false}, "axis": null}}}
          ]
        },
        {
          "width": 108, "height": 566,
          "encoding": {"y": {"field": "d", "type": "quantitative", "scale": {"domain": [90, 150], "reverse": true, "nice": false, "zero": false}, "axis": {"title": null, "values": [92,94,96,98,100,102,104,106,108,110,112,114,116,118,120,122,124,126,128,130,132,134,136,138,140,142,144,146,148], "gridColor": {"condition": {"test": "datum.value % 10 === 0", "value": "#c8c8c8"}, "value": "#e0e0e0"}, "gridWidth": {"condition": {"test": "datum.value % 10 === 0", "value": 3}, "value": 2}}}},
          "layer": [
            {"data": {"name": "res"}, "mark": {"type": "line", "color": "#9fd3ee", "strokeWidth": 1.6, "interpolate": "catmull-rom"}, "encoding": {"x": {"field": "aho10", "type": "quantitative", "scale": {"type": "log", "domain": [0.1, 100], "nice": false}, "axis": {"title": null, "values": [0.2,0.3,0.4,0.5,0.6,0.7,0.8,0.9,1,2,3,4,5,6,7,8,9,10,20,30,40,50,60,70,80,90], "gridColor": {"condition": {"test": "datum.value === 1 || datum.value === 10", "value": "#c6c6c6"}, "value": "#dedede"}, "gridWidth": {"condition": {"test": "datum.value === 1 || datum.value === 10", "value": 2}, "value": 1}}}, "order": {"field": "d", "type": "quantitative"}}},
            {"data": {"name": "res"}, "mark": {"type": "line", "color": "#ff2020", "strokeWidth": 1.4, "interpolate": "catmull-rom"}, "encoding": {"x": {"field": "aho90", "type": "quantitative", "scale": {"type": "log", "domain": [0.1, 100], "nice": false}}, "order": {"field": "d", "type": "quantitative"}}},
            {"data": {"name": "rtsi"}, "mark": {"type": "line", "color": "#1a1aff", "strokeWidth": 1.8, "interpolate": "step-before"}, "encoding": {"x": {"field": "v", "type": "quantitative", "scale": {"type": "log", "domain": [0.1, 100], "nice": false}}, "order": {"field": "d", "type": "quantitative"}}},
            {"data": {"name": "notes"}, "transform": [{"filter": "datum.kind === 'arrow' && datum.track === 't2'"}], "mark": {"type": "rule", "color": "#dd7733", "strokeWidth": 3.5}, "encoding": {"x": {"field": "x", "type": "quantitative", "scale": {"type": "log", "domain": [0.1, 100], "nice": false}}, "x2": {"field": "x2"}}}
          ]
        },
        {
          "width": 108, "height": 566,
          "encoding": {"y": {"field": "d", "type": "quantitative", "scale": {"domain": [90, 150], "reverse": true, "nice": false, "zero": false}, "axis": {"title": null, "values": [92,94,96,98,100,102,104,106,108,110,112,114,116,118,120,122,124,126,128,130,132,134,136,138,140,142,144,146,148], "gridColor": {"condition": {"test": "datum.value % 10 === 0", "value": "#c8c8c8"}, "value": "#e0e0e0"}, "gridWidth": {"condition": {"test": "datum.value % 10 === 0", "value": 3}, "value": 2}}}},
          "resolve": {"scale": {"x": "independent"}},
          "layer": [
            {"data": {"name": "rho"}, "mark": {"type": "line", "color": "#ff3030", "strokeWidth": 1.4, "interpolate": "catmull-rom"}, "encoding": {"x": {"field": "rhla", "type": "quantitative", "scale": {"domain": [1.65, 2.65], "nice": false, "zero": false}, "axis": {"title": null, "values": [2.15], "gridColor": "#dcdcdc", "gridWidth": 2}}, "order": {"field": "d", "type": "quantitative"}}},
            {"data": {"name": "tnph"}, "mark": {"type": "line", "color": "#2e8b2e", "strokeWidth": 1.3, "strokeDash": [7, 4], "interpolate": "catmull-rom"}, "encoding": {"x": {"field": "v", "type": "quantitative", "scale": {"domain": [0, 0.6], "reverse": true, "nice": false, "zero": false}, "axis": null}, "order": {"field": "d", "type": "quantitative"}}},
            {"data": {"name": "rhosi"}, "mark": {"type": "line", "color": "#a4504c", "strokeWidth": 2.2, "interpolate": "step-before"}, "encoding": {"x": {"field": "v", "type": "quantitative", "scale": {"domain": [1.65, 2.65], "nice": false, "zero": false}, "axis": null}, "order": {"field": "d", "type": "quantitative"}}},
            {"data": {"name": "rho"}, "mark": {"type": "line", "color": "#2626ff", "strokeWidth": 1.6, "interpolate": "catmull-rom"}, "encoding": {"x": {"field": "rhosim", "type": "quantitative", "scale": {"domain": [1.65, 2.65], "nice": false, "zero": false}, "axis": null}, "order": {"field": "d", "type": "quantitative"}}},
            {"data": {"name": "notes"}, "transform": [{"filter": "datum.kind === 'arrow' && datum.track === 't3'"}], "mark": {"type": "rule", "color": "#dd7733", "strokeWidth": 3.5}, "encoding": {"x": {"field": "x", "type": "quantitative", "scale": {"domain": [1.65, 2.65], "nice": false, "zero": false}, "axis": null}, "x2": {"field": "x2"}}}
          ]
        },
        {
          "width": 208, "height": 566,
          "encoding": {"y": {"field": "d", "type": "quantitative", "scale": {"domain": [90, 150], "reverse": true, "nice": false, "zero": false}, "axis": {"title": null, "values": [92,94,96,98,100,102,104,106,108,110,112,114,116,118,120,122,124,126,128,130,132,134,136,138,140,142,144,146,148], "gridColor": {"condition": {"test": "datum.value % 10 === 0", "value": "#c8c8c8"}, "value": "#e0e0e0"}, "gridWidth": {"condition": {"test": "datum.value % 10 === 0", "value": 3}, "value": 2}}}},
          "layer": [
            {"data": {"name": "cs"}, "mark": {"type": "line", "color": "#74869a", "strokeWidth": 2.2}, "encoding": {"x": {"field": "v", "type": "quantitative", "scale": {"domain": [0, 1000], "nice": false, "zero": false}, "axis": {"title": null, "values": [200, 400, 600, 800], "gridColor": "#dcdcdc", "gridWidth": 2}}, "order": {"field": "d", "type": "quantitative"}}},
            {"data": {"name": "lab"}, "mark": {"type": "text", "fontSize": 21, "fill": "white", "stroke": "white", "strokeWidth": 7, "clip": true}, "encoding": {"x": {"datum": 378, "type": "quantitative"}, "text": {"field": "d", "type": "quantitative", "format": "d"}}},
            {"data": {"name": "lab"}, "mark": {"type": "text", "fontSize": 21, "color": "#111111", "clip": true}, "encoding": {"x": {"datum": 378, "type": "quantitative"}, "text": {"field": "d", "type": "quantitative", "format": "d"}}},
            {"data": {"name": "notes"}, "transform": [{"filter": "datum.kind === 'ring' && datum.track === 't4'"}], "mark": {"type": "point", "shape": "M-1,0C-1,-0.262,-0.552,-0.475,0,-0.475C0.552,-0.475,1,-0.262,1,0C1,0.262,0.552,0.475,0,0.475C-0.552,0.475,-1,0.262,-1,0Z", "size": 25600, "filled": false, "color": "#e07f3e", "strokeWidth": 1.6, "strokeDash": [6, 4], "opacity": 1}, "encoding": {"x": {"field": "x", "type": "quantitative"}}},
            {"data": {"name": "notes"}, "transform": [{"filter": "datum.kind === 'arrow' && datum.track === 't4'"}], "mark": {"type": "rule", "color": "#dd7733", "strokeWidth": 3.5}, "encoding": {"x": {"field": "x", "type": "quantitative"}, "x2": {"field": "x2"}}}
          ]
        },
        {
          "width": 207, "height": 566,
          "encoding": {"y": {"field": "d", "type": "quantitative", "scale": {"domain": [90, 150], "reverse": true, "nice": false, "zero": false}, "axis": {"title": null, "values": [92,94,96,98,100,102,104,106,108,110,112,114,116,118,120,122,124,126,128,130,132,134,136,138,140,142,144,146,148], "gridColor": {"condition": {"test": "datum.value % 10 === 0", "value": "#c8c8c8"}, "value": "#e0e0e0"}, "gridWidth": {"condition": {"test": "datum.value % 10 === 0", "value": 3}, "value": 2}}}},
          "layer": [
            {"data": {"name": "grerr"}, "mark": {"type": "line", "color": "#1e8a1e", "strokeWidth": 3, "interpolate": "catmull-rom"}, "encoding": {"x": {"field": "v", "type": "quantitative", "scale": {"domain": [-20, 20], "nice": false, "zero": false}, "axis": {"title": null, "values": [0], "gridColor": "#dcdcdc", "gridWidth": 2}}, "order": {"field": "d", "type": "quantitative"}}},
            {"data": {"name": "rhoerr"}, "mark": {"type": "line", "color": "#ff2020", "strokeWidth": 1.2}, "encoding": {"x": {"field": "v", "type": "quantitative"}, "order": {"field": "d", "type": "quantitative"}}},
            {"data": {"name": "notes"}, "transform": [{"filter": "datum.kind === 'ring' && datum.track === 't5'"}], "mark": {"type": "point", "shape": "M-1,0C-1,-0.262,-0.552,-0.475,0,-0.475C0.552,-0.475,1,-0.262,1,0C1,0.262,0.552,0.475,0,0.475C-0.552,0.475,-1,0.262,-1,0Z", "size": 25600, "filled": false, "color": "#e07f3e", "strokeWidth": 1.6, "strokeDash": [6, 4], "opacity": 1}, "encoding": {"x": {"field": "x", "type": "quantitative"}}},
            {"data": {"name": "notes"}, "transform": [{"filter": "datum.kind === 'arrow' && datum.track === 't5'"}], "mark": {"type": "rule", "color": "#dd7733", "strokeWidth": 3.5}, "encoding": {"x": {"field": "x", "type": "quantitative"}, "x2": {"field": "x2"}}}
          ]
        },
        {
          "width": 209, "height": 566,
          "data": {"name": "aibc"},
          "encoding": {"y": {"field": "d", "type": "quantitative", "scale": {"domain": [90, 150], "reverse": true, "nice": false, "zero": false}, "axis": {"title": null, "values": [92,94,96,98,100,102,104,106,108,110,112,114,116,118,120,122,124,126,128,130,132,134,136,138,140,142,144,146,148], "gridColor": {"condition": {"test": "datum.value % 10 === 0", "value": "#c8c8c8"}, "value": "#e0e0e0"}, "gridWidth": {"condition": {"test": "datum.value % 10 === 0", "value": 3}, "value": 2}}}, "order": {"field": "d", "type": "quantitative"}},
          "layer": [
            {"mark": {"type": "line", "color": "#ff7f5a", "strokeWidth": 1}, "encoding": {"x": {"field": "a2", "type": "quantitative", "scale": {"domain": [-50, 50], "nice": false, "zero": false}, "axis": {"title": null, "values": [0], "gridColor": "#dcdcdc", "gridWidth": 2}}}},
            {"mark": {"type": "line", "color": "#30dd30", "strokeWidth": 1}, "encoding": {"x": {"field": "a4", "type": "quantitative"}}},
            {"mark": {"type": "line", "color": "#2020ee", "strokeWidth": 1}, "encoding": {"x": {"field": "a3", "type": "quantitative"}}},
            {"mark": {"type": "line", "color": "#20dddd", "strokeWidth": 1}, "encoding": {"x": {"field": "a5", "type": "quantitative"}}},
            {"mark": {"type": "line", "color": "#ee30ee", "strokeWidth": 1}, "encoding": {"x": {"field": "a6", "type": "quantitative"}}}
          ]
        }
      ]
    }
  ]
}
